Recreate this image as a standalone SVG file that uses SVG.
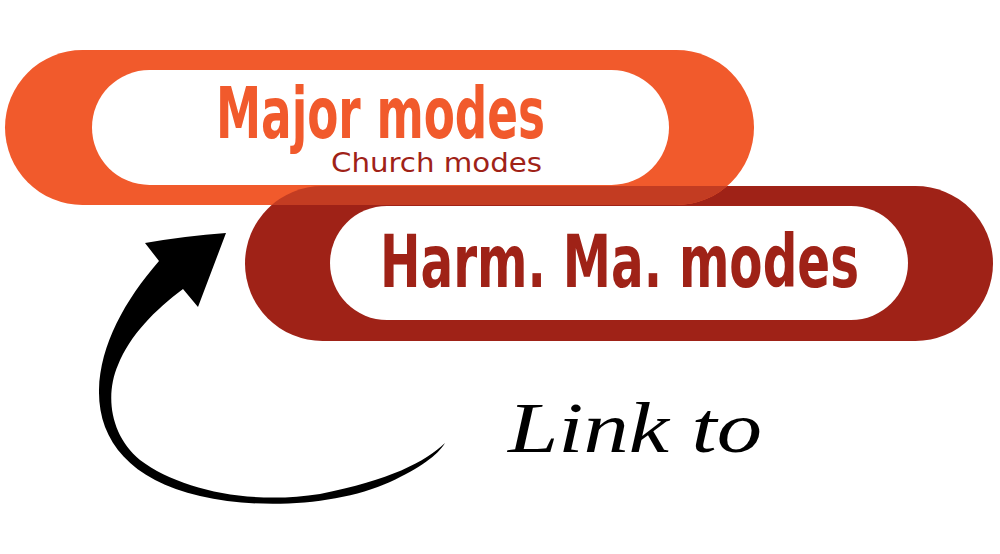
<svg xmlns="http://www.w3.org/2000/svg" width="1000" height="554" viewBox="0 0 1000 554">
  <style>
    .orange { fill: #f15a2c; }
    .dark { fill: #9f2217; }
    .overlap { fill: #c33c22; }
    .inner { fill: #ffffff; }
    .bold { font-family: "Liberation Sans Narrow", "DejaVu Sans Condensed", "Liberation Sans", sans-serif; font-weight: bold; }
    .reg { font-family: "Liberation Sans Narrow", "DejaVu Sans Condensed", "Liberation Sans", sans-serif; }
    .script { font-family: "Liberation Serif", "DejaVu Serif", serif; font-style: italic; }
  </style>
  <defs>
    <clipPath id="clipOrange">
      <rect x="5" y="50" width="749" height="155" rx="77.5" ry="77.5"/>
    </clipPath>
  </defs>
  <rect width="1000" height="554" fill="#ffffff"/>

  <g id="node-harm">
    <rect class="dark" x="245" y="186" width="748" height="155" rx="77.5" ry="77.5"/>
    <rect class="inner" x="330" y="206" width="578" height="114" rx="57" ry="57"/>
    <text class="bold" x="380" y="287" font-size="73" fill="#9f2217" textLength="479" lengthAdjust="spacingAndGlyphs">Harm. Ma. modes</text>
  </g>

  <g id="node-major">
    <rect class="orange" x="5" y="50" width="749" height="155" rx="77.5" ry="77.5"/>
    <rect class="inner" x="92" y="70" width="577" height="115" rx="57.5" ry="57.5"/>
    <text class="bold" x="216" y="138" font-size="71" fill="#f15a2c" textLength="329" lengthAdjust="spacingAndGlyphs">Major modes</text>
    <text class="reg" x="331" y="172" font-size="26" fill="#9f2217" textLength="211" lengthAdjust="spacingAndGlyphs">Church modes</text>
  </g>

  <g id="overlap">
    <rect class="overlap" x="245" y="186" width="748" height="155" rx="77.5" ry="77.5" clip-path="url(#clipOrange)"/>
  </g>

  <g id="connectors">
    <path fill="#000000" d="M 159,261 C 125,300 100,345 99,390 C 98,440 130,480 200,496 C 260,510 340,505 390,482 C 420,468 438,455 445,443 C 425,462 390,480 320,494 C 250,505 180,490 140,460 C 110,435 105,395 118,365 C 130,335 155,310 183,289 L 198,307 L 226,233 Q 185,236 145,243 Z"/>
  </g>

  <g id="label-link">
    <text class="script" x="508" y="452" font-size="72" fill="#000000" textLength="254" lengthAdjust="spacingAndGlyphs">Link to</text>
  </g>
</svg>
